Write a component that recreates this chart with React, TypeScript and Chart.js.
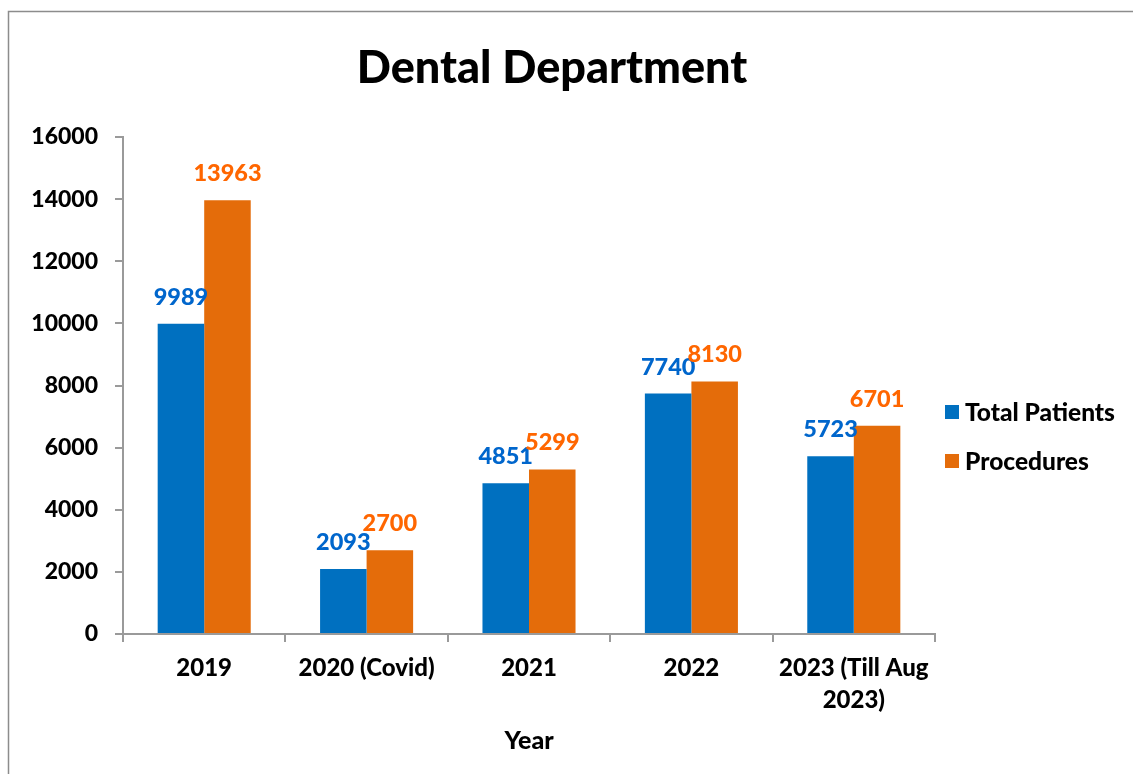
import React, { useEffect, useRef } from "react";
import { Chart, registerables } from "chart.js";

Chart.register(...registerables);

const categories: (string | string[])[] = [
  "2019",
  "2020 (Covid)",
  "2021",
  "2022",
  ["2023 (Till Aug", "2023)"],
];
const totalPatients = [9989, 2093, 4851, 7740, 5723];
const procedures = [13963, 2700, 5299, 8130, 6701];
const seriesNames = ["Total Patients", "Procedures"];
const barColors = ["#0070C0", "#E46C0A"];
const labelColors = ["#0066CC", "#FF6600"];

const FONT = "Lato, 'Open Sans', sans-serif";
const W = 900;

const frameBorder = {
  id: "frameBorder",
  beforeDraw(chart: any) {
    const ctx = chart.ctx;
    ctx.save();
    ctx.fillStyle = "#ffffff";
    ctx.fillRect(0, 0, chart.width, chart.height);
    ctx.strokeStyle = "#8C8C8C";
    ctx.lineWidth = 1.5;
    ctx.strokeRect(8.5, 11.5, 2000, 2000);
    ctx.restore();
  },
};

const valueLabels = {
  id: "valueLabels",
  afterDatasetsDraw(chart: any) {
    const ctx = chart.ctx;
    ctx.save();
    ctx.font = `${W} 23.5px ${FONT}`;
    ctx.textAlign = "center";
    ctx.textBaseline = "alphabetic";
    chart.data.datasets.forEach((ds: any, di: number) => {
      const meta = chart.getDatasetMeta(di);
      ctx.fillStyle = labelColors[di];
      meta.data.forEach((bar: any, i: number) => {
        ctx.fillText(String(ds.data[i]), bar.x, bar.y - 19);
      });
    });
    ctx.restore();
  },
};

const sideLegend = {
  id: "sideLegend",
  afterDraw(chart: any) {
    const ctx = chart.ctx;
    const x0 = chart.chartArea.right + 10;
    const ys = [412, 461];
    ctx.save();
    ctx.font = `${W} 24.5px ${FONT}`;
    ctx.textAlign = "left";
    ctx.textBaseline = "middle";
    chart.data.datasets.forEach((ds: any, di: number) => {
      const y = ys[di];
      ctx.fillStyle = ds.backgroundColor;
      ctx.fillRect(x0, y - 7, 14, 14);
      ctx.fillStyle = "#000000";
      ctx.fillText(ds.label, x0 + 20, y + 1);
    });
    ctx.restore();
  },
};

export default function App() {
  const ref = useRef<HTMLCanvasElement | null>(null);

  useEffect(() => {
    if (!ref.current) return;
    const chart = new Chart(ref.current, {
      type: "bar",
      data: {
        labels: categories,
        datasets: [
          {
            label: seriesNames[0],
            data: totalPatients,
            backgroundColor: barColors[0],
            borderWidth: 0,
            categoryPercentage: 0.573,
            barPercentage: 1,
          },
          {
            label: seriesNames[1],
            data: procedures,
            backgroundColor: barColors[1],
            borderWidth: 0,
            categoryPercentage: 0.573,
            barPercentage: 1,
          },
        ],
      },
      options: {
        responsive: false,
        animation: false,
        layout: { padding: { left: 0, right: 29, top: 0, bottom: 0 } },
        plugins: {
          legend: { display: false },
          tooltip: { enabled: false },
          title: {
            display: true,
            text: "Dental Department",
            color: "#000000",
            font: { family: FONT, size: 45, weight: W, lineHeight: 1.2 },
            padding: { top: 41, bottom: 42 },
          },
        },
        scales: {
          x: {
            grid: {
              drawOnChartArea: false,
              drawTicks: true,
              tickLength: 8,
              color: "#9A9A9A",
              lineWidth: 2,
            },
            border: { display: true, color: "#9A9A9A", width: 2 },
            ticks: {
              color: "#000000",
              font: { family: FONT, size: 24, weight: W, lineHeight: 1.3 },
              padding: 11,
              maxRotation: 0,
              autoSkip: false,
            },
            title: {
              display: true,
              text: "Year",
              color: "#000000",
              font: { family: FONT, size: 25, weight: W, lineHeight: 1.2 },
              padding: { top: 0, bottom: 18 },
            },
            afterFit: (s: any) => {
              s.height = 140;
            },
          },
          y: {
            min: 0,
            max: 16000,
            ticks: {
              stepSize: 2000,
              color: "#000000",
              font: { family: FONT, size: 23, weight: W },
              padding: 17,
              callback: (v: any) => String(v),
            },
            grid: {
              drawOnChartArea: false,
              drawTicks: true,
              tickLength: 8,
              color: "#9A9A9A",
              lineWidth: 2,
            },
            border: { display: true, color: "#9A9A9A", width: 2 },
            afterFit: (s: any) => {
              s.width = 123;
            },
          },
          spacer: {
            type: "linear",
            position: "right",
            display: true,
            grid: { display: false, drawTicks: false },
            border: { display: false },
            ticks: { display: false },
            afterFit: (s: any) => {
              s.width = 169;
            },
          },
        },
      },
      plugins: [frameBorder, valueLabels, sideLegend],
    } as any);
    return () => chart.destroy();
  }, []);

  return (
    <div
      style={{
        position: "fixed",
        left: 0,
        top: 0,
        width: 1133,
        height: 774,
        overflow: "hidden",
        background: "#ffffff",
      }}
    >
      <canvas ref={ref} width={1133} height={774} style={{ display: "block" }} />
    </div>
  );
}
